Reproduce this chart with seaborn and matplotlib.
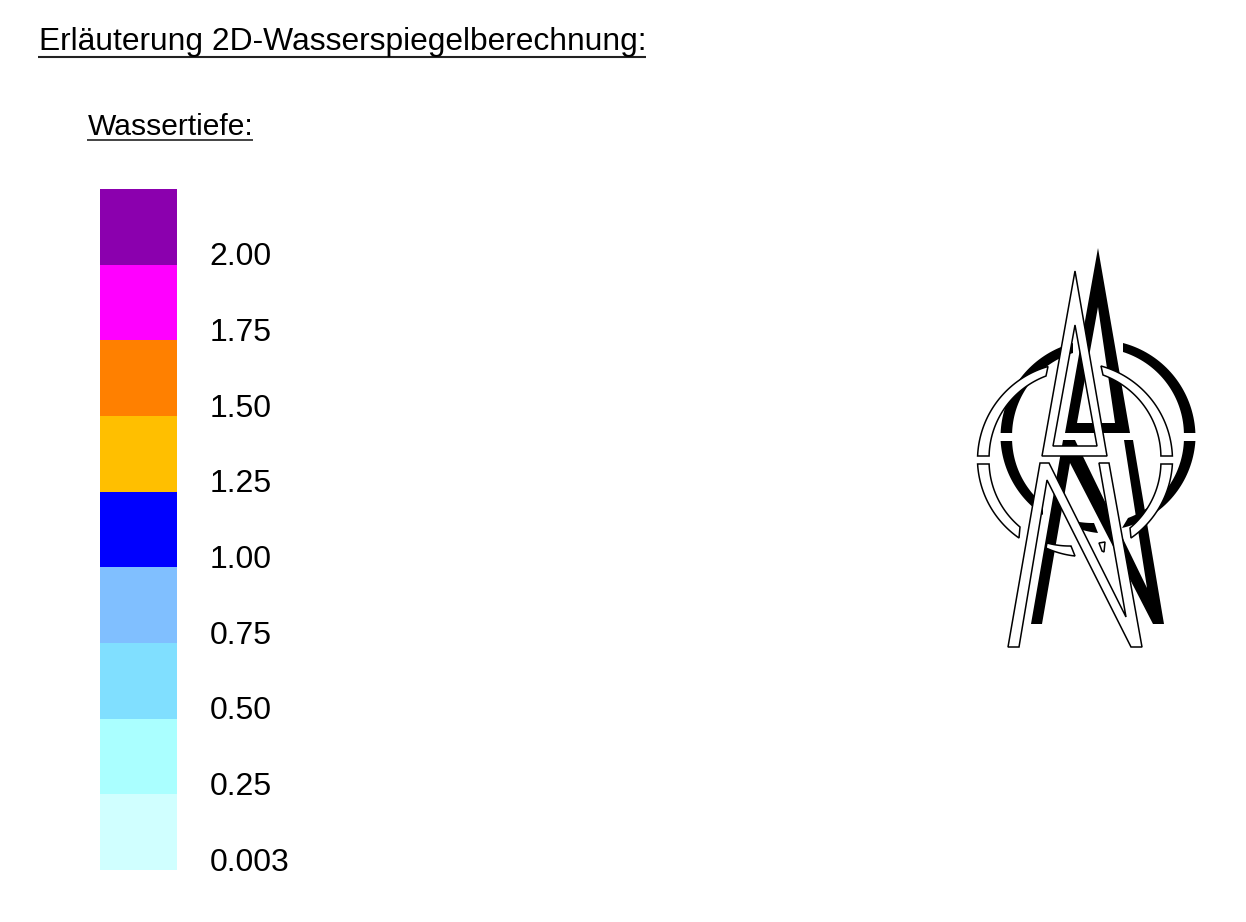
import numpy as np
import pandas as pd
import seaborn as sns
import matplotlib.pyplot as plt
from matplotlib.colors import ListedColormap
from matplotlib.path import Path
from matplotlib.patches import PathPatch, Polygon

# Legend bands, top to bottom
depth_labels = ["2.00", "1.75", "1.50", "1.25", "1.00", "0.75", "0.50", "0.25", "0.003"]
band_colors = ["#8b00ae", "#ff00ff", "#ff8000", "#ffbf00", "#0000ff",
               "#80bfff", "#80dfff", "#aaffff", "#d0ffff"]
band_order = [8, 7, 6, 5, 4, 3, 2, 1, 0]

title_text = "Erläuterung 2D-Wasserspiegelberechnung:"
subtitle_text = "Wassertiefe:"

W, H = 1246, 922

sns.set_theme(style="white")
plt.rcParams["font.family"] = ["Liberation Sans", "DejaVu Sans"]

fig = plt.figure(figsize=(W / 100, H / 100), dpi=100, facecolor="white")

# Colour scale
ax = fig.add_axes([100 / W, 1 - 870 / H, 77 / W, 681 / H])
df = pd.DataFrame({"depth": band_order}, index=depth_labels)
sns.heatmap(df, ax=ax, cmap=ListedColormap(band_colors[::-1]), cbar=False,
            xticklabels=False, linewidths=0)
ax.yaxis.tick_right()
ax.set_yticks(np.arange(len(depth_labels)) + 0.855)
ax.set_yticklabels(depth_labels, rotation=0, fontsize=23, color="black")
ax.tick_params(axis="y", length=0, pad=23.6)
ax.set_ylabel("")

# Overlay in pixel coordinates for the headings and the logo
ov = fig.add_axes([0, 0, 1, 1])
ov.set_xlim(0, W)
ov.set_ylim(H, 0)
ov.axis("off")
ov.patch.set_alpha(0)

ov.text(39, 50, title_text, fontsize=22.85, color="black", ha="left", va="baseline")
ov.plot([38, 646], [57, 57], color="#222222", lw=1.5, solid_capstyle="butt")
ov.text(88, 135, subtitle_text, fontsize=21.6, color="black", ha="left", va="baseline")
ov.plot([87, 253], [140.5, 140.5], color="#222222", lw=1.2, solid_capstyle="butt")

# Logo outline points, relative to the ring centre
tri_outer = [(0, -189), (32, -4), (-33, -4)]
white_tri_inner = [(0, -135), (22, -14), (-22, -14)]
black_tri_inner = [(0, -130), (17, -14), (-21, -14)]
white_n = [(-35, 3), (-26, 3), (51, 157), (24, 3), (34, 3), (67, 187),
           (56, 187), (-28, 20), (-56, 187), (-67, 187)]
black_n = [(-35, 3), (-23, 3), (49, 151), (26, 3), (35, 3), (66, 187),
           (55, 187), (-28, 26), (-56, 187), (-67, 187)]


def ring_piece(start_out, end_out, end_in, start_in):
    # arc outer edge from start to end, then inner edge back
    def arc(p, q):
        a1, a2 = np.arctan2(p[1], p[0]), np.arctan2(q[1], q[0])
        r1, r2 = np.hypot(*p), np.hypot(*q)
        t = np.linspace(0, 1, 40)
        a = a1 + (a2 - a1) * t
        r = r1 + (r2 - r1) * t
        return np.column_stack([r * np.cos(a), r * np.sin(a)])
    return np.vstack([arc(start_out, end_out), arc(end_in, start_in)])


def compound(outer, inner):
    verts = list(outer) + [outer[0]] + list(inner)[::-1] + [inner[-1]]
    codes = [Path.MOVETO] + [Path.LINETO] * (len(outer) - 1) + [Path.CLOSEPOLY]
    codes += [Path.MOVETO] + [Path.LINETO] * (len(inner) - 1) + [Path.CLOSEPOLY]
    return Path(verts, codes)


black_rings = [
    ring_piece((-97.4, -4), (-25, -94), (-25, -84), (-85.9, -4)),
    ring_piece((97.4, -4), (25, -94), (25, -85), (85.9, -4)),
    ring_piece((-97.4, 4), (-55, 78), (-55, 67), (-85.9, 4)),
    ring_piece((97.4, 4), (24, 91), (30, 81), (85.9, 4)),
    ring_piece((-29, 88), (0, 96), (-4, 86), (-28, 83)),
]
white_rings = [
    ring_piece((-97.4, -4), (-27, -93.5), (-29, -84), (-85.9, -4)),
    ring_piece((97.4, -4), (26, -94), (28, -85), (85.9, -4)),
    ring_piece((-97.4, 4), (-56, 78), (-55, 67), (-85.9, 4)),
    ring_piece((97.4, 4), (56, 78), (55, 68), (85.9, 4)),
    ring_piece((-29, 88), (0, 96), (-4, 86), (-28, 83)),
]


def draw_logo(cx, cy, rings, tri_inner, n_shape, face, edge, lw):
    off = np.array([cx, cy])
    for piece in rings:
        ov.add_patch(Polygon(piece + off, closed=True, fc=face, ec=edge, lw=lw))
    tri = compound(np.array(tri_outer) + off, np.array(tri_inner) + off)
    ov.add_patch(PathPatch(tri, fc=face, ec=edge, lw=lw))
    ov.add_patch(Polygon(np.array(n_shape) + off, closed=True, fc=face, ec=edge, lw=lw))


draw_logo(1098, 437, black_rings, black_tri_inner, black_n, "black", "none", 0)
draw_logo(1075, 460, white_rings, white_tri_inner, white_n, "white", "black", 1.1)

# small leftover piece of the ring inside the white N
ov.add_patch(Polygon([(1099, 543), (1105, 542), (1104, 552), (1102, 551)],
                     closed=True, fc="white", ec="black", lw=1.1))

fig.savefig("out.png", dpi=100)
